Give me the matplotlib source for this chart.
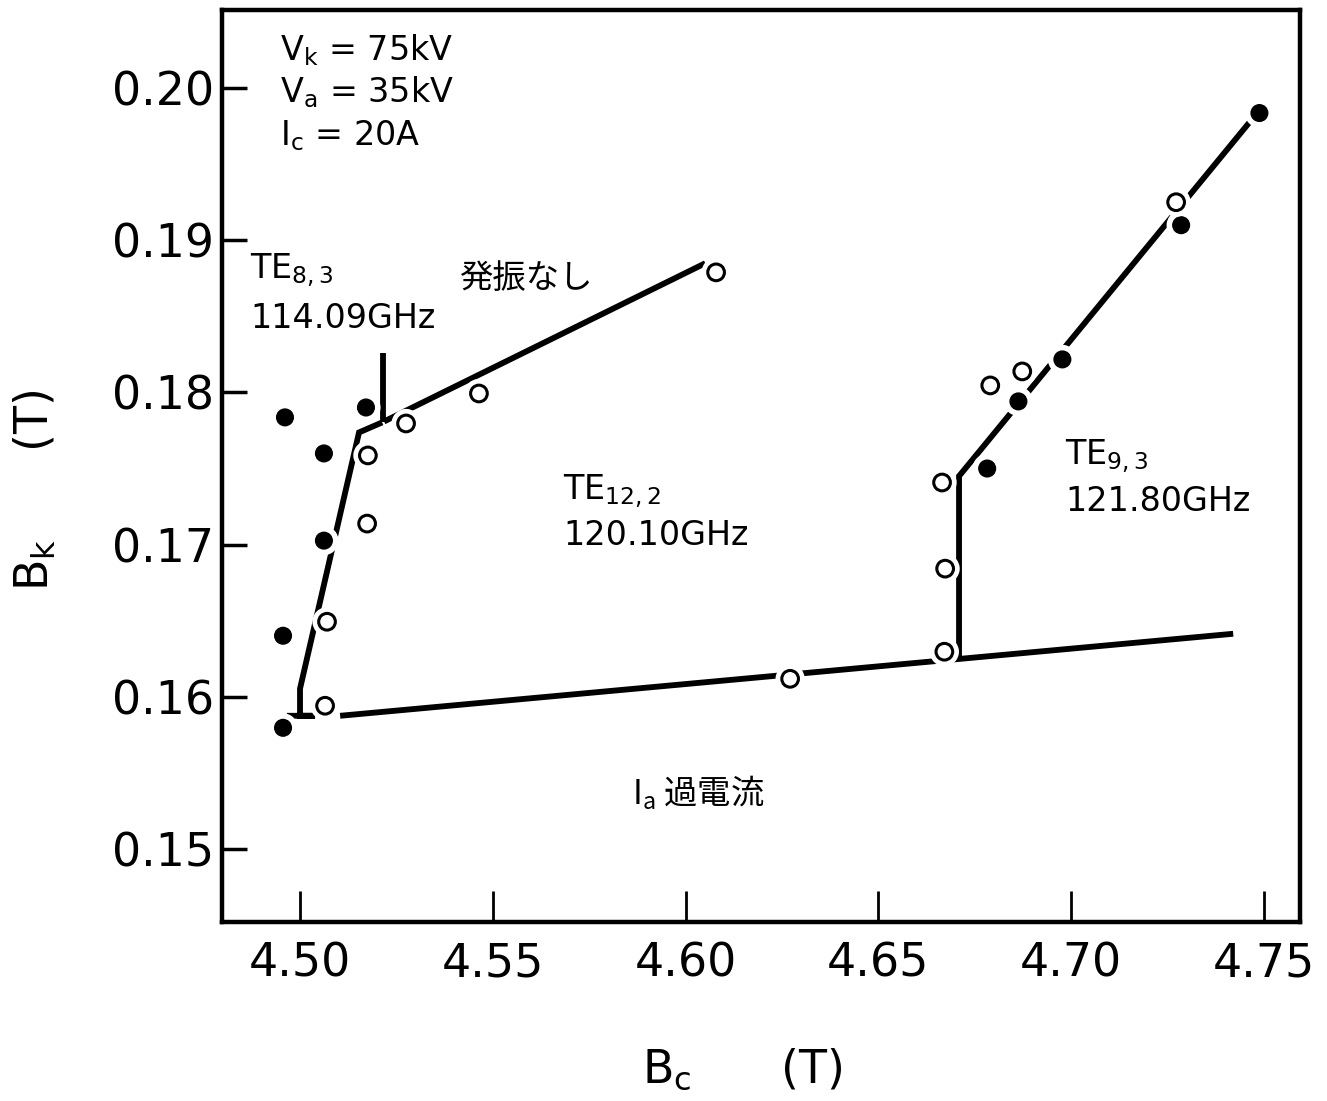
import numpy as np
import matplotlib
matplotlib.use("Agg")
import matplotlib.pyplot as plt
import matplotlib.patheffects as pe

plt.rcParams['font.family'] = ['DejaVu Sans']
plt.rcParams['mathtext.default'] = 'regular'
jp = ['Noto Sans CJK JP', 'DejaVu Sans']

# measured points: filled = oscillation observed, open = boundary checks
bc_filled = [4.4961, 4.5062, 4.5062, 4.4956, 4.4956, 4.5171,
             4.6782, 4.6863, 4.6977, 4.7285, 4.7488]
bk_filled = [0.17836, 0.17599, 0.17026, 0.16401, 0.15796, 0.17901,
             0.1750, 0.17941, 0.18217, 0.19099, 0.19836]

bc_open = [4.5065, 4.5070, 4.5174, 4.5176, 4.5275, 4.5464, 4.6079,
           4.6271, 4.6671, 4.6673, 4.6665, 4.6790, 4.6873, 4.7272]
bk_open = [0.15941, 0.16493, 0.17138, 0.17586, 0.17796, 0.17993, 0.18789,
           0.16118, 0.16296, 0.16842, 0.17408, 0.18046, 0.18138, 0.19250]

# mode boundaries
left_bc = [4.4966, 4.5039, 4.5000, 4.5000, 4.5153, 4.5213]
left_bk = [0.15875, 0.15875, 0.15875, 0.16053, 0.17737, 0.17803]
stub_bc = [4.5215, 4.5215]
stub_bk = [0.18257, 0.17803]
upper_bc = [4.5218, 4.6051]
upper_bk = [0.17809, 0.18849]
lower_bc = [4.5104, 4.7420]
lower_bk = [0.15875, 0.16414]
right_bc = [4.6709, 4.6709, 4.7503]
right_bk = [0.16265, 0.1745, 0.19901]

fig = plt.figure(figsize=(13.27, 11.01), dpi=100)
ax = fig.add_axes([0.1673, 0.1626, 0.8124, 0.8283])

lw = 4.2
for xs, ys in [(left_bc, left_bk), (stub_bc, stub_bk), (upper_bc, upper_bk),
               (lower_bc, lower_bk), (right_bc, right_bk)]:
    ax.plot(xs, ys, color='black', lw=lw, solid_capstyle='butt',
            solid_joinstyle='miter', zorder=2)

halo = [pe.withStroke(linewidth=9, foreground='white')]
ax.plot(bc_filled, bk_filled, 'o', ms=12, color='black', mec='black',
        path_effects=halo, zorder=3)
ax.plot(bc_open, bk_open, 'o', ms=12, mfc='white', mec='black', mew=2.2,
        path_effects=halo, zorder=3)

ax.set_xlim(4.47977, 4.75934)
ax.set_ylim(0.14520, 0.20513)
ax.set_xticks([4.50, 4.55, 4.60, 4.65, 4.70, 4.75])
ax.set_xticklabels(['4.50', '4.55', '4.60', '4.65', '4.70', '4.75'])
ax.set_yticks([0.15, 0.16, 0.17, 0.18, 0.19, 0.20])
ax.set_yticklabels(['0.15', '0.16', '0.17', '0.18', '0.19', '0.20'])
ax.tick_params(axis='x', direction='in', length=22, width=2, labelsize=33, pad=14)
ax.tick_params(axis='y', direction='in', length=18, width=2.5, labelsize=33, pad=6)
for s in ax.spines.values():
    s.set_linewidth(3.2)

fs = 24
ax.text(4.4948, 0.2025, 'V$_k$ = 75kV', fontsize=fs, va='center')
ax.text(4.4948, 0.1997, 'V$_a$ = 35kV', fontsize=fs, va='center')
ax.text(4.4948, 0.1969, 'I$_c$ = 20A', fontsize=fs, va='center')

ax.text(4.4870, 0.18803, 'TE$_{8,3}$', fontsize=fs, va='center')
ax.text(4.4870, 0.18487, '114.09GHz', fontsize=fs, va='center')
ax.text(4.5415, 0.1875, '発振なし', fontsize=fs, va='center', family=jp)
ax.text(4.5683, 0.17355, 'TE$_{12,2}$', fontsize=fs, va='center')
ax.text(4.5683, 0.17059, '120.10GHz', fontsize=fs, va='center')
ax.text(4.6985, 0.1758, 'TE$_{9,3}$', fontsize=fs, va='center')
ax.text(4.6985, 0.1728, '121.80GHz', fontsize=fs, va='center')
ax.text(4.5860, 0.1537, 'I$_a$ 過電流', fontsize=fs, va='center', family=jp)

fig.text(35 / 1327, 1 - 490 / 1101, 'B$_k$      (T)', fontsize=33,
         rotation=90, ha='center', va='center')
fig.text(742 / 1327, 1 - 1070 / 1101, 'B$_c$      (T)', fontsize=33,
         ha='center', va='center')

fig.savefig('out.png', dpi=100)
